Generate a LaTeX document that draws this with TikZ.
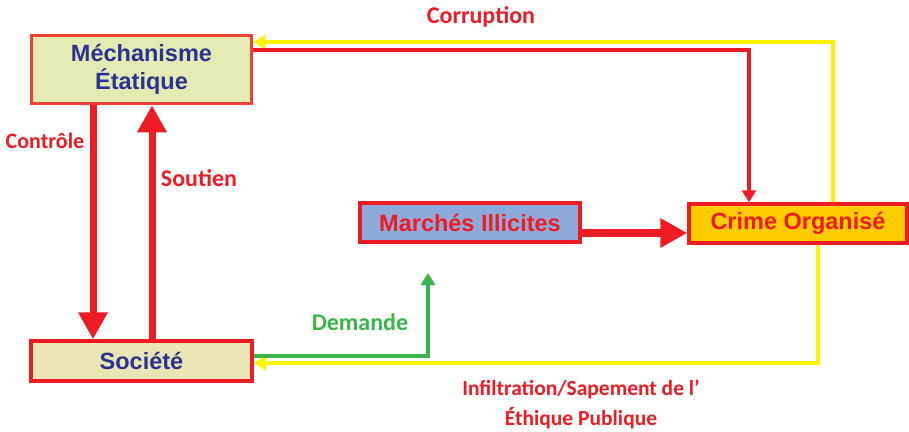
\documentclass[tikz,border=0pt]{standalone}
\usepackage{fontspec}
\setmainfont{Liberation Sans}
\newfontfamily\lblfont{Carlito}
\usetikzlibrary{arrows.meta, calc}
\definecolor{cred}{HTML}{ED1C24}
\definecolor{corange}{HTML}{EF4136}
\definecolor{cyellow}{HTML}{FFF200}
\definecolor{cgreen}{HTML}{39B54A}
\definecolor{cblue}{HTML}{2E3192}
\definecolor{fmech}{HTML}{E3EBB2}
\definecolor{fsoc}{HTML}{E9E6B4}
\definecolor{fmarch}{HTML}{8EAADB}
\definecolor{fcrime}{HTML}{FFCC00}
\tikzset{
  box/.style={draw=cred, line width=3.5pt, inner sep=0pt, align=center,
    font=\fontsize{23.5}{28}\selectfont\bfseries},
  lbl/.style={font=\lblfont\fontsize{24}{30}\selectfont\bfseries, align=center},
  thick arrow/.style={cred, line width=7pt, -{Triangle[length=27pt,width=28pt]}},
  thin arrow/.style={line width=3.5pt, -{Triangle[length=12pt,width=14pt]}}
}

\begin{document}
\begin{tikzpicture}[x=1pt, y=-1pt]
\useasboundingbox (0,0) rectangle (909,431);
\node[box, draw=corange, fill=fmech, text=cblue, minimum width=220pt, minimum height=68pt] (mech) at (141.5,69.5) {Méchanisme\\Étatique};
\node[box, fill=fsoc, text=cblue, minimum width=221pt, minimum height=40pt] (soc) at (141.5,361) {Société};
\node[box, fill=fmarch, text=cred, minimum width=220pt, minimum height=39pt] (march) at (470,222.5) {Marchés Illicites};
\node[box, fill=fcrime, text=cred, minimum width=218pt, minimum height=39pt] (crime) at (798,223.5) {Crime Organisé};
\coordinate (cTurn) at (749,50);
\coordinate (yTop) at (833,42);
\coordinate (yBot) at (818,363);
\coordinate (dTurn) at (428,356);
\coordinate (dEnd) at (428,273);
\coordinate (mArr) at (0,233);
\coordinate (xCtrl) at (93,0);
\coordinate (xSout) at (152,0);
\draw[thin arrow, cyellow] (crime.north -| yTop) |- (mech.east |- yTop);
\draw[thin arrow, cred] (mech.east |- cTurn) -| (crime.north -| cTurn);
\draw[thin arrow, cyellow] (crime.south -| yBot) |- (soc.east |- yBot);
\draw[thin arrow, cgreen] (soc.east |- dTurn) -| (dEnd);
\draw[thick arrow] (mech.south -| xCtrl) -- (soc.north -| xCtrl);
\draw[thick arrow] (soc.north -| xSout) -- (mech.south -| xSout);
\draw[thick arrow, line width=8pt] (march.east |- mArr) -- (crime.west |- mArr);
\node[lbl, text=cred] (lCorr) at (481,17) {Corruption};
\node[lbl, text=cred, font=\lblfont\fontsize{22}{30}\selectfont\bfseries] (lCtrl) at (45,141) {Contrôle};
\node[lbl, text=cred] (lSout) at (199,178) {Soutien};
\node[lbl, text=cgreen] (lDem) at (360,322) {Demande};
\node[lbl, text=cred, font=\lblfont\fontsize{21.5}{30}\selectfont\bfseries] (lInf) at (581,404) {Infiltration/Sapement de l’\\Éthique Publique};
\end{tikzpicture}
\end{document}
